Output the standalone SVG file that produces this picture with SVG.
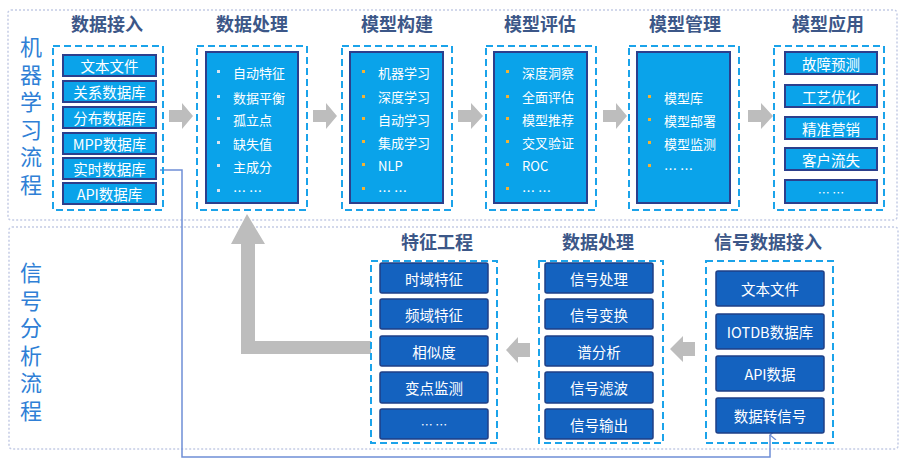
<svg xmlns="http://www.w3.org/2000/svg" width="903" height="475" viewBox="0 0 903 475">
<defs>
<style>
.zone{fill:none;stroke:#c3cbe5;stroke-width:1.5;stroke-dasharray:2 2}
.vlab{font-family:"Noto Sans CJK SC",sans-serif;font-size:22px;fill:#2f7fd6;writing-mode:vertical-rl;letter-spacing:5.5px}
.hdr{font-family:"Noto Sans CJK SC",sans-serif;font-size:18px;font-weight:bold;fill:#3c5788;text-anchor:middle}
.dash{fill:none;stroke:#1ba3ea;stroke-width:2;stroke-dasharray:7 4}
.cbox{fill:#0aa3ea;stroke:#2c3f8c;stroke-width:2}
.dbox{fill:#1462bf;stroke:#1e3f86;stroke-width:1.5}
.wt{font-family:"Noto Sans CJK SC",sans-serif;font-size:14.5px;fill:#ffffff;text-anchor:middle;dominant-baseline:central}
.lt{font-family:"Noto Sans CJK SC",sans-serif;font-size:13px;fill:#ffffff;dominant-baseline:central}
.bw{fill:#d8e4f0}
.bo{fill:#f2b233}
.garrow{fill:#bdbdbd}
.link{fill:none;stroke:#6f8fd6;stroke-width:1.5}
</style>
<marker id="open" viewBox="0 0 10 10" refX="5" refY="1" markerWidth="10" markerHeight="10" markerUnits="userSpaceOnUse" orient="auto-start-reverse">
<path d="M0,7 L5,1 L10,7" fill="none" stroke="#6f8fd6" stroke-width="1.3"/>
</marker>
</defs>
<rect width="903" height="475" fill="#ffffff"/>

<rect class="zone" x="8" y="10" width="889" height="210" rx="3"/>
<rect class="zone" x="9" y="227" width="889" height="222" rx="3"/>

<g id="label-ml">
<text class="vlab" x="31" y="36">机器学习流程</text>
</g>
<g id="label-sig">
<text class="vlab" x="31" y="262">信号分析流程</text>
</g>

<g id="connectors">
<polygon class="garrow" points="169,110 182,110 182,103 193,116 182,129 182,122 169,122"/>
<polygon class="garrow" points="313,110 326,110 326,103 337,116 326,129 326,122 313,122"/>
<polygon class="garrow" points="458,110 471,110 471,103 483,116 471,129 471,122 458,122"/>
<polygon class="garrow" points="603,110 616,110 616,103 627,116 616,129 616,122 603,122"/>
<polygon class="garrow" points="748,110 761,110 761,103 773,116 761,129 761,122 748,122"/>
<polygon class="garrow" points="530,343 518,343 518,337 506,350 518,363 518,357 530,357"/>
<polygon class="garrow" points="695,342 683,342 683,336 670,349 683,362 683,356 695,356"/>
<polygon class="garrow" points="371,341 255,341 255,244 265,244 247,214 231,244 241,244 241,354 371,354"/>
<polyline class="link" points="160,170 182,170 182,457 770,457 770,435" marker-end="url(#open)"/>
</g>

<g id="ingest">
<text class="hdr" x="107" y="31">数据接入</text>
<rect class="dash" x="53" y="46" width="110" height="164"/>
<rect class="cbox" x="63" y="55" width="93" height="21"/><text class="wt" x="109.5" y="65.5">文本文件</text>
<rect class="cbox" x="63" y="81" width="93" height="21"/><text class="wt" x="109.5" y="91.5">关系数据库</text>
<rect class="cbox" x="63" y="107" width="93" height="21"/><text class="wt" x="109.5" y="117.5">分布数据库</text>
<rect class="cbox" x="63" y="133" width="93" height="21"/><text class="wt" x="109.5" y="143.5">MPP数据库</text>
<rect class="cbox" x="63" y="158" width="93" height="21"/><text class="wt" x="109.5" y="168.5">实时数据库</text>
<rect class="cbox" x="63" y="183" width="93" height="21"/><text class="wt" x="109.5" y="193.5">API数据库</text>
</g>

<g id="process">
<text class="hdr" x="252" y="31">数据处理</text>
<rect class="dash" x="197" y="46" width="110" height="164"/>
<rect class="cbox" x="206" y="52" width="92" height="151"/>
<rect class="bw" x="217" y="70" width="3" height="3"/><text class="lt" x="233" y="72">自动特征</text>
<rect class="bw" x="217" y="95" width="3" height="3"/><text class="lt" x="233" y="97">数据平衡</text>
<rect class="bw" x="217" y="117" width="3" height="3"/><text class="lt" x="233" y="119">孤立点</text>
<rect class="bw" x="217" y="141" width="3" height="3"/><text class="lt" x="233" y="143">缺失值</text>
<rect class="bw" x="217" y="164" width="3" height="3"/><text class="lt" x="233" y="166">主成分</text>
<rect class="bw" x="217" y="189" width="3" height="3"/><text class="lt" x="233" y="190">… …</text>
</g>

<g id="build">
<text class="hdr" x="397" y="31">模型构建</text>
<rect class="dash" x="342" y="46" width="110" height="164"/>
<rect class="cbox" x="350" y="52" width="93" height="151"/>
<rect class="bo" x="362" y="70" width="3" height="3"/><text class="lt" x="378" y="72">机器学习</text>
<rect class="bo" x="362" y="95" width="3" height="3"/><text class="lt" x="378" y="96">深度学习</text>
<rect class="bo" x="362" y="117" width="3" height="3"/><text class="lt" x="378" y="119">自动学习</text>
<rect class="bo" x="362" y="140" width="3" height="3"/><text class="lt" x="378" y="142">集成学习</text>
<rect class="bo" x="362" y="163" width="3" height="3"/><text class="lt" x="378" y="165">NLP</text>
<rect class="bo" x="362" y="187" width="3" height="3"/><text class="lt" x="378" y="190">… …</text>
</g>

<g id="evaluate">
<text class="hdr" x="540" y="31">模型评估</text>
<rect class="dash" x="486" y="46" width="110" height="164"/>
<rect class="cbox" x="494" y="52" width="93" height="151"/>
<rect class="bo" x="506" y="70" width="3" height="3"/><text class="lt" x="522" y="72">深度洞察</text>
<rect class="bo" x="506" y="95" width="3" height="3"/><text class="lt" x="522" y="96">全面评估</text>
<rect class="bo" x="506" y="117" width="3" height="3"/><text class="lt" x="522" y="119">模型推荐</text>
<rect class="bo" x="506" y="140" width="3" height="3"/><text class="lt" x="522" y="142">交叉验证</text>
<rect class="bo" x="506" y="163" width="3" height="3"/><text class="lt" x="522" y="165">ROC</text>
<rect class="bo" x="506" y="187" width="3" height="3"/><text class="lt" x="522" y="190">… …</text>
</g>

<g id="manage">
<text class="hdr" x="685" y="31">模型管理</text>
<rect class="dash" x="629" y="46" width="110" height="164"/>
<rect class="cbox" x="637" y="52" width="93" height="151"/>
<rect class="bo" x="648" y="95" width="3" height="3"/><text class="lt" x="664" y="97">模型库</text>
<rect class="bo" x="648" y="118" width="3" height="3"/><text class="lt" x="664" y="120">模型部署</text>
<rect class="bo" x="648" y="141" width="3" height="3"/><text class="lt" x="664" y="143">模型监测</text>
<rect class="bo" x="648" y="164" width="3" height="3"/><text class="lt" x="664" y="168">… …</text>
</g>

<g id="apply">
<text class="hdr" x="828" y="31">模型应用</text>
<rect class="dash" x="774" y="46" width="110" height="164"/>
<rect class="cbox" x="785" y="52" width="92" height="22"/><text class="wt" x="831" y="63">故障预测</text>
<rect class="cbox" x="785" y="85" width="92" height="22"/><text class="wt" x="831" y="96">工艺优化</text>
<rect class="cbox" x="785" y="117" width="92" height="22"/><text class="wt" x="831" y="128">精准营销</text>
<rect class="cbox" x="785" y="148" width="92" height="22"/><text class="wt" x="831" y="159">客户流失</text>
<rect class="cbox" x="785" y="180" width="92" height="23"/><text class="wt" x="831" y="192" style="font-size:12px">… …</text>
</g>

<g id="feature">
<text class="hdr" x="437" y="249">特征工程</text>
<rect class="dash" x="371" y="261" width="126" height="182"/>
<rect class="dbox" x="380" y="263" width="108" height="30" rx="2"/><text class="wt" x="434" y="278">时域特征</text>
<rect class="dbox" x="380" y="299" width="108" height="30" rx="2"/><text class="wt" x="434" y="314">频域特征</text>
<rect class="dbox" x="380" y="336" width="108" height="30" rx="2"/><text class="wt" x="434" y="351">相似度</text>
<rect class="dbox" x="380" y="372" width="108" height="31" rx="2"/><text class="wt" x="434" y="387.5">变点监测</text>
<rect class="dbox" x="380" y="409" width="108" height="30" rx="2"/><text class="wt" x="434" y="424" style="font-size:12px">…   …</text>
</g>

<g id="sigprocess">
<text class="hdr" x="598" y="249">数据处理</text>
<rect class="dash" x="539" y="261" width="124" height="182"/>
<rect class="dbox" x="545" y="263" width="108" height="30" rx="2"/><text class="wt" x="599" y="278">信号处理</text>
<rect class="dbox" x="545" y="299" width="108" height="30" rx="2"/><text class="wt" x="599" y="314">信号变换</text>
<rect class="dbox" x="545" y="336" width="108" height="30" rx="2"/><text class="wt" x="599" y="351">谱分析</text>
<rect class="dbox" x="545" y="372" width="108" height="31" rx="2"/><text class="wt" x="599" y="387.5">信号滤波</text>
<rect class="dbox" x="545" y="409" width="108" height="30" rx="2"/><text class="wt" x="599" y="424">信号输出</text>
</g>

<g id="sigingest">
<text class="hdr" x="768" y="249">信号数据接入</text>
<rect class="dash" x="706" y="261" width="127" height="182"/>
<rect class="dbox" x="716" y="271" width="108" height="35" rx="2"/><text class="wt" x="770" y="288.5">文本文件</text>
<rect class="dbox" x="716" y="314" width="108" height="35" rx="2"/><text class="wt" x="770" y="331.5">IOTDB数据库</text>
<rect class="dbox" x="716" y="356" width="108" height="35" rx="2"/><text class="wt" x="770" y="373.5">API数据</text>
<rect class="dbox" x="716" y="398" width="108" height="35" rx="2"/><text class="wt" x="770" y="415.5">数据转信号</text>
</g>
</svg>
